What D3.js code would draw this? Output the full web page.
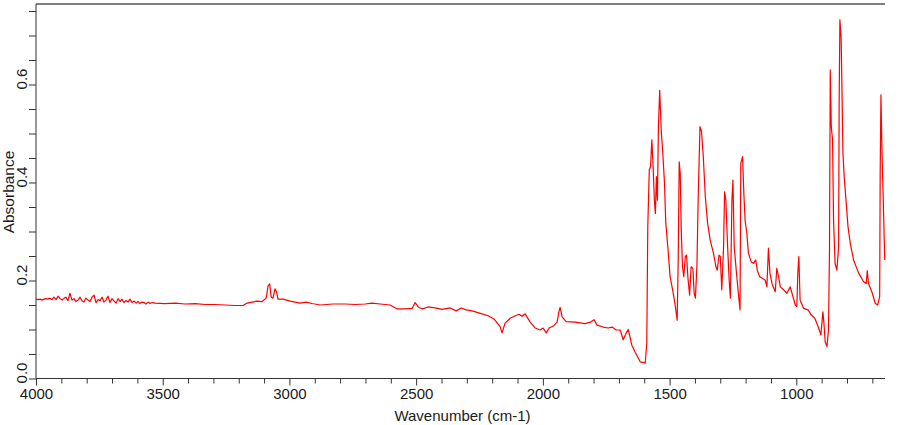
<!DOCTYPE html>
<html><head><meta charset="utf-8">
<script src="https://cdn.jsdelivr.net/npm/d3@7"></script>
<style>body{margin:0;background:#fff}svg{display:block}text{font-family:"Liberation Sans",Arial,sans-serif}</style>
</head><body><svg id="c" width="900" height="425"></svg>
<script>
const wavenumber = [4000,3992,3984,3976,3968,3961,3953,3945,3937,3929,3921,3913,3905,3897,3889,3882,3874,3866,3858,3850,3842,3834,3826,3818,3811,3803,3795,3787,3779,3771,3763,3755,3747,3739,3732,3724,3716,3708,3700,3692,3684,3676,3668,3661,3653,3645,3637,3629,3621,3613,3605,3597,3590,3582,3574,3566,3558,3550,3542,3530,3491,3451,3412,3372,3333,3293,3254,3215,3183,3167,3147,3128,3108,3092,3084,3078,3072,3065,3057,3051,3045,3025,2997,2958,2934,2911,2879,2828,2780,2741,2701,2674,2642,2603,2575,2544,2516,2504,2492,2476,2453,2425,2398,2366,2342,2322,2303,2279,2247,2216,2192,2169,2161,2149,2129,2109,2094,2082,2070,2050,2030,2011,1999,1987,1975,1959,1944,1936,1932,1924,1908,1873,1833,1813,1798,1786,1762,1742,1727,1711,1695,1683,1671,1663,1649,1636,1616,1596,1590,1586,1580,1575,1570,1565,1560,1556,1552,1548,1544,1539,1533,1526,1520,1515,1507,1498,1488,1478,1470,1466,1462,1458,1454,1449,1444,1438,1433,1428,1421,1415,1408,1403,1398,1392,1387,1380,1374,1367,1359,1350,1340,1327,1317,1312,1305,1300,1294,1287,1283,1278,1271,1265,1260,1254,1250,1245,1237,1230,1222,1219,1212,1207,1202,1195,1189,1178,1169,1160,1154,1145,1133,1123,1116,1110,1104,1096,1083,1077,1070,1063,1050,1037,1024,1017,1004,998,994,990,985,971,954,941,927,914,903,895,891,886,879,873,869,866,862,857,853,847,840,833,831,828,823,819,816,811,803,796,787,774,754,735,724,720,715,702,688,679,671,669,666,662,656,651];
const absorbance = [0.162,0.161,0.162,0.160,0.162,0.163,0.162,0.164,0.161,0.166,0.161,0.168,0.163,0.160,0.164,0.166,0.159,0.174,0.160,0.163,0.157,0.160,0.166,0.158,0.156,0.164,0.160,0.157,0.166,0.170,0.155,0.161,0.159,0.166,0.156,0.160,0.168,0.155,0.163,0.158,0.154,0.163,0.157,0.162,0.155,0.159,0.156,0.162,0.155,0.158,0.154,0.157,0.153,0.156,0.155,0.152,0.156,0.153,0.155,0.154,0.153,0.154,0.152,0.153,0.151,0.151,0.150,0.149,0.149,0.154,0.156,0.158,0.157,0.164,0.189,0.193,0.166,0.164,0.183,0.177,0.162,0.162,0.158,0.154,0.156,0.153,0.150,0.152,0.152,0.151,0.152,0.154,0.152,0.150,0.142,0.142,0.143,0.155,0.146,0.142,0.146,0.144,0.141,0.144,0.138,0.144,0.140,0.138,0.133,0.128,0.121,0.106,0.093,0.113,0.123,0.128,0.131,0.127,0.132,0.115,0.103,0.099,0.103,0.093,0.103,0.107,0.115,0.138,0.145,0.126,0.116,0.115,0.112,0.115,0.120,0.109,0.105,0.103,0.105,0.099,0.099,0.079,0.093,0.100,0.068,0.054,0.034,0.032,0.072,0.310,0.426,0.432,0.487,0.432,0.364,0.337,0.412,0.364,0.514,0.588,0.507,0.453,0.398,0.317,0.269,0.208,0.181,0.150,0.119,0.242,0.442,0.419,0.303,0.228,0.208,0.249,0.252,0.208,0.170,0.228,0.225,0.174,0.164,0.232,0.371,0.514,0.504,0.453,0.371,0.317,0.283,0.256,0.228,0.221,0.252,0.249,0.181,0.269,0.381,0.364,0.269,0.201,0.164,0.364,0.405,0.269,0.221,0.181,0.140,0.439,0.453,0.378,0.323,0.296,0.256,0.238,0.235,0.242,0.221,0.208,0.204,0.201,0.187,0.266,0.215,0.194,0.177,0.225,0.208,0.187,0.181,0.174,0.187,0.174,0.150,0.147,0.215,0.249,0.160,0.143,0.140,0.130,0.123,0.106,0.089,0.136,0.113,0.075,0.065,0.099,0.262,0.630,0.514,0.487,0.323,0.235,0.221,0.269,0.555,0.732,0.694,0.562,0.460,0.412,0.358,0.310,0.276,0.242,0.215,0.198,0.194,0.220,0.194,0.177,0.153,0.150,0.167,0.419,0.579,0.466,0.347,0.242];
const xTickValues = d3.range(700, 4001, 100);
const xLabelValues = [4000, 3500, 3000, 2500, 2000, 1500, 1000];
const yTickValues = d3.range(0, 0.7501, 0.05).map(v => +v.toFixed(2));
const yLabelValues = [0, 0.2, 0.4, 0.6];
const xTitle = "Wavenumber (cm-1)";
const yTitle = "Absorbance";

const L = 36, R = 885, T = 4, B = 378.5;
const svg = d3.select("#c");
const x = d3.scaleLinear().domain([4000, 650]).range([L, R]);
const y = d3.scaleLinear().domain([0, (B - T) / 490]).range([B, T]);

// top border
svg.append("line").attr("x1", L).attr("x2", R).attr("y1", T).attr("y2", T)
  .attr("stroke", "#555").attr("stroke-width", 1.3);

const xa = svg.append("g").attr("transform", `translate(0,${B})`)
  .call(d3.axisBottom(x).tickValues(xTickValues).tickSize(5).tickPadding(4)
    .tickFormat(d => xLabelValues.includes(d) ? d : ""));
xa.select(".domain").attr("stroke", "#333").attr("d", `M${L},0H${R}`);
xa.selectAll(".tick line").attr("stroke", "#333").attr("y2", d => xLabelValues.includes(d) ? 7 : 5);
xa.selectAll(".tick text").attr("fill", "#1a1a1a").attr("font-size", 15)
  .attr("font-family", '"Liberation Sans",Arial,sans-serif').attr("y", 10).attr("dy", "0.71em");

const ya = svg.append("g").attr("transform", `translate(${L},0)`)
  .call(d3.axisLeft(y).tickValues(yTickValues).tickSize(7)
    .tickFormat(d => yLabelValues.some(v => Math.abs(v - d) < 1e-9) ? d3.format(".1f")(d) : ""));
ya.select(".domain").attr("stroke", "#333").attr("d", `M0,${T}V${B}`);
ya.selectAll(".tick line").attr("stroke", "#333");
ya.selectAll(".tick text").attr("fill", "#1a1a1a").attr("font-size", 15)
  .attr("font-family", '"Liberation Sans",Arial,sans-serif')
  .attr("transform", "rotate(-90)").attr("text-anchor", "middle")
  .attr("x", 6).attr("y", -9).attr("dy", 0);

svg.append("text").attr("x", (L + R) / 2 + 2).attr("y", 421).attr("text-anchor", "middle")
  .attr("font-size", 15).attr("fill", "#1a1a1a").text(xTitle);
svg.append("text").attr("transform", "rotate(-90)").attr("x", -192).attr("y", 14)
  .attr("text-anchor", "middle").attr("font-size", 15.5).attr("fill", "#1a1a1a").text(yTitle);

const data = wavenumber.map((w, i) => [w, absorbance[i]]);
svg.append("path").datum(data)
  .attr("fill", "none").attr("stroke", "#ff0000").attr("stroke-width", 1.2)
  .attr("stroke-linejoin", "round")
  .attr("d", d3.line().x(d => x(d[0])).y(d => y(d[1])));
</script></body></html>
